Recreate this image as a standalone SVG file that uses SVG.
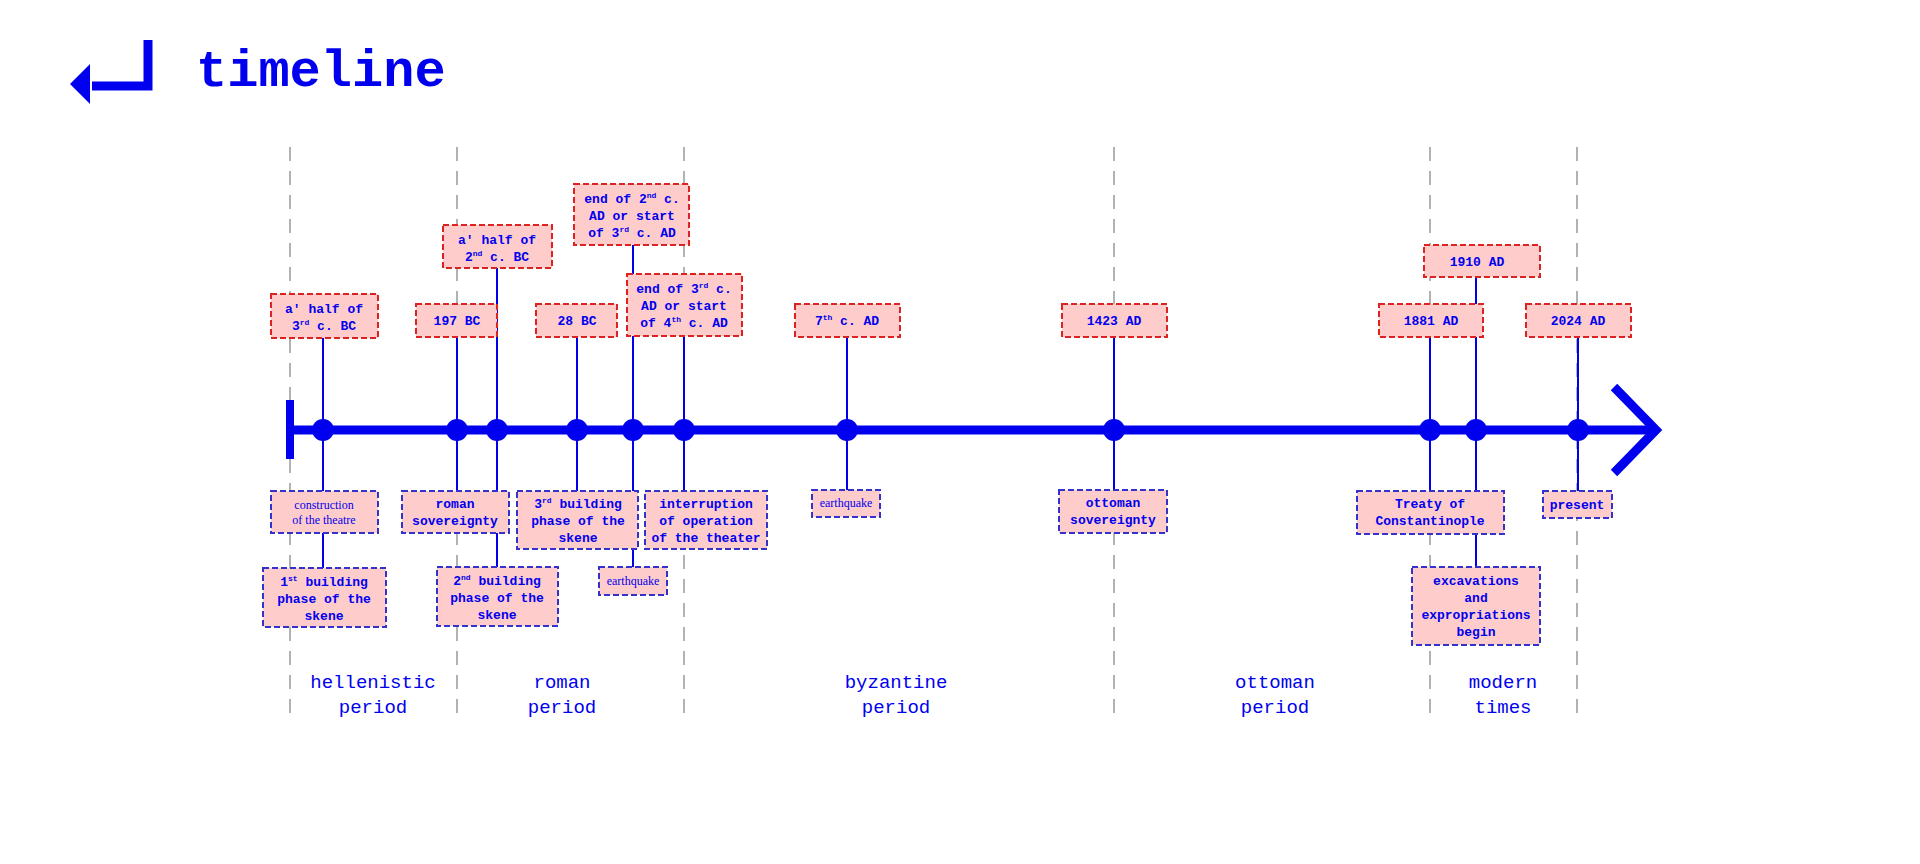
<svg xmlns="http://www.w3.org/2000/svg" width="1920" height="864" viewBox="0 0 1920 864">
<style>
.grid{stroke:#999;stroke-width:1.5;stroke-dasharray:14 10}
.top{fill:#ffcccc;stroke:#dd2222;stroke-width:2;stroke-dasharray:6 3}
.bot{fill:#ffcccc;stroke:#3333cc;stroke-width:2;stroke-dasharray:6 3}
.t{font-family:"Liberation Mono",monospace;font-weight:bold;font-size:13px;fill:#0000ee;text-anchor:middle}
.s{font-family:"Liberation Serif",serif;font-size:12px;fill:#0000ee;text-anchor:middle}
.p{font-family:"Liberation Mono",monospace;font-size:19px;fill:#0000ee;text-anchor:middle}
.c{stroke:#0000ee;stroke-width:2}
.sup{font-size:8px}
</style>
<rect width="1920" height="864" fill="#fff"/>
<g id="title">
<path d="M148 40 V86 H92" fill="none" stroke="#0000ee" stroke-width="9"/>
<polygon points="70,84 90,64 90,104" fill="#0000ee"/>
<text x="196" y="86" font-family="Liberation Mono,monospace" font-weight="bold" font-size="52" fill="#0000ee">timeline</text>
</g>
<g id="grid">
<line class="grid" x1="290" y1="147" x2="290" y2="716"/>
<line class="grid" x1="457" y1="147" x2="457" y2="716"/>
<line class="grid" x1="684" y1="147" x2="684" y2="716"/>
<line class="grid" x1="1114" y1="147" x2="1114" y2="716"/>
<line class="grid" x1="1430" y1="147" x2="1430" y2="716"/>
<line class="grid" x1="1577" y1="147" x2="1577" y2="716"/>
</g>
<g id="connectors">
<line class="c" x1="323" y1="338" x2="323" y2="568"/>
<line class="c" x1="457" y1="337" x2="457" y2="491"/>
<line class="c" x1="497" y1="268" x2="497" y2="567"/>
<line class="c" x1="577" y1="337" x2="577" y2="491"/>
<line class="c" x1="633" y1="245" x2="633" y2="567"/>
<line class="c" x1="684" y1="336" x2="684" y2="491"/>
<line class="c" x1="847" y1="337" x2="847" y2="490"/>
<line class="c" x1="1114" y1="337" x2="1114" y2="490"/>
<line class="c" x1="1430" y1="337" x2="1430" y2="491"/>
<line class="c" x1="1476" y1="277" x2="1476" y2="567"/>
<line class="c" x1="1578" y1="337" x2="1578" y2="491"/>
</g>
<g id="axis">
<line x1="290" y1="430" x2="1655" y2="430" stroke="#0000ee" stroke-width="9"/>
<line x1="290" y1="400" x2="290" y2="459" stroke="#0000ee" stroke-width="8"/>
<polyline points="1614,387 1656,430 1614,473" fill="none" stroke="#0000ee" stroke-width="9"/>
<g fill="#0000ee">
<circle cx="323" cy="430" r="11"/><circle cx="457" cy="430" r="11"/><circle cx="497" cy="430" r="11"/>
<circle cx="577" cy="430" r="11"/><circle cx="633" cy="430" r="11"/><circle cx="684" cy="430" r="11"/>
<circle cx="847" cy="430" r="11"/><circle cx="1114" cy="430" r="11"/><circle cx="1430" cy="430" r="11"/>
<circle cx="1476" cy="430" r="11"/><circle cx="1578" cy="430" r="11"/>
</g>
</g>
<g id="d1"><rect class="top" x="271" y="294" width="107" height="44"/><text class="t" x="324" y="313">a′ half of</text><text class="t" x="324" y="330">3<tspan class="sup" dy="-5">rd</tspan><tspan dy="5"> c. BC</tspan></text></g>
<g id="d2"><rect class="top" x="416" y="304" width="81" height="33"/><text class="t" x="457" y="325">197 BC</text></g>
<g id="d3"><rect class="top" x="443" y="225" width="109" height="43"/><text class="t" x="497" y="244">a′ half of</text><text class="t" x="497" y="261">2<tspan class="sup" dy="-5">nd</tspan><tspan dy="5"> c. BC</tspan></text></g>
<g id="d4"><rect class="top" x="536" y="304" width="81" height="33"/><text class="t" x="577" y="325">28 BC</text></g>
<g id="d5"><rect class="top" x="574" y="184" width="115" height="61"/><text class="t" x="632" y="203">end of 2<tspan class="sup" dy="-5">nd</tspan><tspan dy="5"> c.</tspan></text><text class="t" x="632" y="220">AD or start</text><text class="t" x="632" y="237">of 3<tspan class="sup" dy="-5">rd</tspan><tspan dy="5"> c. AD</tspan></text></g>
<g id="d6"><rect class="top" x="627" y="274" width="115" height="62"/><text class="t" x="684" y="293">end of 3<tspan class="sup" dy="-5">rd</tspan><tspan dy="5"> c.</tspan></text><text class="t" x="684" y="310">AD or start</text><text class="t" x="684" y="327">of 4<tspan class="sup" dy="-5">th</tspan><tspan dy="5"> c. AD</tspan></text></g>
<g id="d7"><rect class="top" x="795" y="304" width="105" height="33"/><text class="t" x="847" y="325">7<tspan class="sup" dy="-5">th</tspan><tspan dy="5"> c. AD</tspan></text></g>
<g id="d8"><rect class="top" x="1062" y="304" width="105" height="33"/><text class="t" x="1114" y="325">1423 AD</text></g>
<g id="d9"><rect class="top" x="1379" y="304" width="104" height="33"/><text class="t" x="1431" y="325">1881 AD</text></g>
<g id="d10"><rect class="top" x="1424" y="245" width="116" height="32"/><text class="t" x="1477" y="266">1910 AD</text></g>
<g id="d11"><rect class="top" x="1526" y="304" width="105" height="33"/><text class="t" x="1578" y="325">2024 AD</text></g>
<g id="e1"><rect class="bot" x="271" y="491" width="107" height="42"/><text class="s" x="324" y="509">construction</text><text class="s" x="324" y="524">of the theatre</text></g>
<g id="e2"><rect class="bot" x="263" y="568" width="123" height="59"/><text class="t" x="324" y="586">1<tspan class="sup" dy="-5">st</tspan><tspan dy="5"> building</tspan></text><text class="t" x="324" y="603">phase of the</text><text class="t" x="324" y="620">skene</text></g>
<g id="e3"><rect class="bot" x="402" y="491" width="107" height="42"/><text class="t" x="455" y="508">roman</text><text class="t" x="455" y="525">sovereignty</text></g>
<g id="e4"><rect class="bot" x="437" y="567" width="121" height="59"/><text class="t" x="497" y="585">2<tspan class="sup" dy="-5">nd</tspan><tspan dy="5"> building</tspan></text><text class="t" x="497" y="602">phase of the</text><text class="t" x="497" y="619">skene</text></g>
<g id="e5"><rect class="bot" x="517" y="491" width="121" height="58"/><text class="t" x="578" y="508">3<tspan class="sup" dy="-5">rd</tspan><tspan dy="5"> building</tspan></text><text class="t" x="578" y="525">phase of the</text><text class="t" x="578" y="542">skene</text></g>
<g id="e6"><rect class="bot" x="599" y="567" width="68" height="28"/><text class="s" x="633" y="585" font-size="10">earthquake</text></g>
<g id="e7"><rect class="bot" x="645" y="491" width="122" height="58"/><text class="t" x="706" y="508">interruption</text><text class="t" x="706" y="525">of operation</text><text class="t" x="706" y="542">of the theater</text></g>
<g id="e8"><rect class="bot" x="812" y="490" width="68" height="27"/><text class="s" x="846" y="507" font-size="10">earthquake</text></g>
<g id="e9"><rect class="bot" x="1059" y="490" width="108" height="43"/><text class="t" x="1113" y="507">ottoman</text><text class="t" x="1113" y="524">sovereignty</text></g>
<g id="e10"><rect class="bot" x="1357" y="491" width="147" height="43"/><text class="t" x="1430" y="508">Treaty of</text><text class="t" x="1430" y="525">Constantinople</text></g>
<g id="e11"><rect class="bot" x="1412" y="567" width="128" height="78"/><text class="t" x="1476" y="585">excavations</text><text class="t" x="1476" y="602">and</text><text class="t" x="1476" y="619">expropriations</text><text class="t" x="1476" y="636">begin</text></g>
<g id="e12"><rect class="bot" x="1543" y="491" width="69" height="27"/><text class="t" x="1577" y="509">present</text></g>
<g id="periods">
<text class="p" x="373" y="688">hellenistic</text><text class="p" x="373" y="713">period</text>
<text class="p" x="562" y="688">roman</text><text class="p" x="562" y="713">period</text>
<text class="p" x="896" y="688">byzantine</text><text class="p" x="896" y="713">period</text>
<text class="p" x="1275" y="688">ottoman</text><text class="p" x="1275" y="713">period</text>
<text class="p" x="1503" y="688">modern</text><text class="p" x="1503" y="713">times</text>
</g>
</svg>
